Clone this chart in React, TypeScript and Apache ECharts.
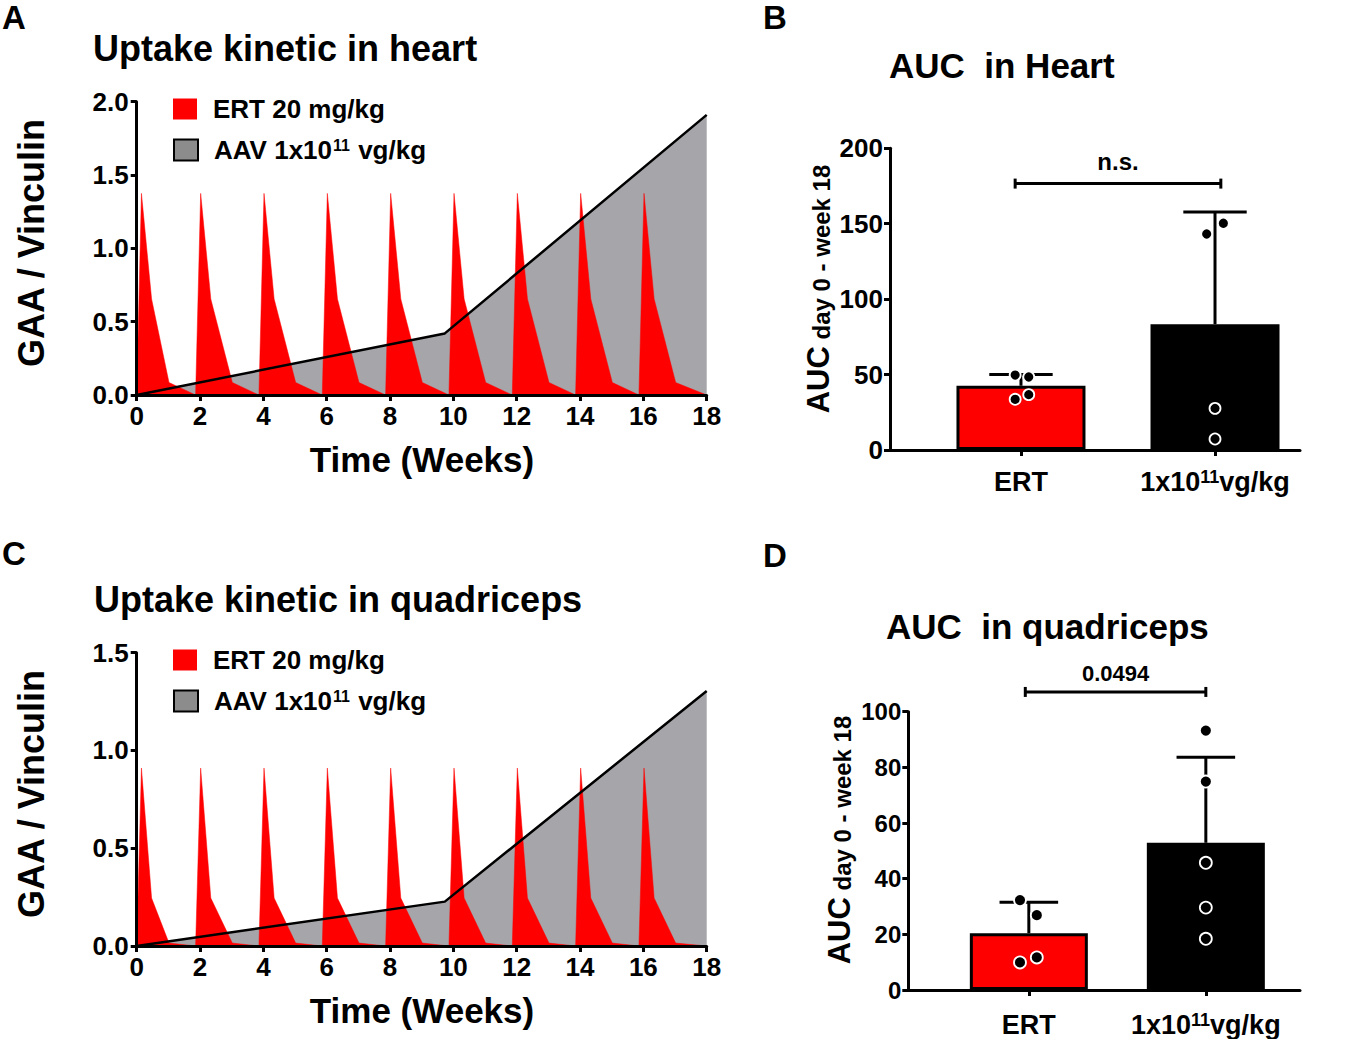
import React, { useEffect, useRef } from "react";
import * as echarts from "echarts";

const FONT = '"Liberation Sans", Arial, Helvetica, sans-serif';

// ---------- Panels A & C : uptake kinetics ----------
const ERT_NAME = "ERT 20 mg/kg";
const AAV_NAME = "AAV 1x10^11 vg/kg";

const ertWeeks = [
  0, 0.15, 0.47, 1.02, 1.86,
  2.02, 2.34, 3.02, 3.86,
  4.02, 4.34, 5.02, 5.86,
  6.02, 6.34, 7.02, 7.86,
  8.02, 8.34, 9.02, 9.86,
  10.02, 10.34, 11.02, 11.86,
  12.02, 12.34, 13.02, 13.86,
  14.02, 14.34, 15.02, 15.86,
  16.02, 16.34, 17.02, 18,
];
const heartErtValues = [
  0, 1.375, 0.655, 0.085, 0,
  1.375, 0.655, 0.085, 0,
  1.375, 0.655, 0.085, 0,
  1.375, 0.655, 0.085, 0,
  1.375, 0.655, 0.085, 0,
  1.375, 0.655, 0.085, 0,
  1.375, 0.655, 0.085, 0,
  1.375, 0.655, 0.085, 0,
  1.375, 0.655, 0.085, 0,
];
const quadErtValues = [
  0, 0.91, 0.245, 0.015, 0,
  0.91, 0.245, 0.015, 0,
  0.91, 0.245, 0.015, 0,
  0.91, 0.245, 0.015, 0,
  0.91, 0.245, 0.015, 0,
  0.91, 0.245, 0.015, 0,
  0.91, 0.245, 0.015, 0,
  0.91, 0.245, 0.015, 0,
  0.91, 0.245, 0.015, 0,
];
const aavWeeks = [0, 9.73, 18];
const heartAavValues = [0, 0.42, 1.91];
const quadAavValues = [0, 0.227, 1.304];

// ---------- Panels B & D : AUC ----------
const groupLabels = ["ERT", "1x10{sup|11}vg/kg"];
const barColors = ["#ff0000", "#000000"];

const heartMeans = [42.6, 83.4];
const heartSD = [7.5, 74.4];
const heartErtAuc = [49.7, 48.4, 33.6, 36.7];
const heartErtJitter = [-0.03, 0.04, -0.03, 0.04];
const heartAavAuc = [143.2, 150.3, 27.6, 7.3];
const heartAavJitter = [-0.043, 0.043, 0, 0];
const heartBracketEnds = [-0.03, 1.03];
const heartBracketY = 176.6;
const heartPLabel = "n.s.";

const quadMeans = [20.4, 52.9];
const quadSD = [11.1, 30.7];
const quadErtAuc = [32.3, 26.9, 9.9, 11.7];
const quadErtJitter = [-0.05, 0.045, -0.05, 0.045];
const quadAavAuc = [93.2, 74.9, 45.7, 29.6, 18.4];
const quadAavJitter = [0, 0, 0, 0, 0];
const quadBracketEnds = [-0.02, 1.0];
const quadBracketY = 107.1;
const quadPLabel = "0.0494";

const axisLineStyle = { color: "#000", width: 3 };

function kineticX(gridIndex: number) {
  return {
    type: "value",
    gridIndex,
    min: 0,
    max: 18,
    interval: 2,
    z: 10,
    axisLine: { show: true, onZero: false, lineStyle: axisLineStyle },
    axisTick: { show: true, length: 6, lineStyle: axisLineStyle },
    axisLabel: { fontSize: 26, fontWeight: "bold", fontFamily: FONT, color: "#000", margin: 8 },
    splitLine: { show: false },
  };
}
function kineticY(gridIndex: number, max: number) {
  return {
    type: "value",
    gridIndex,
    min: 0,
    max,
    interval: 0.5,
    z: 10,
    axisLine: { show: true, onZero: false, lineStyle: axisLineStyle },
    axisTick: { show: true, length: 6, lineStyle: axisLineStyle },
    axisLabel: {
      fontSize: 26,
      fontWeight: "bold",
      fontFamily: FONT,
      color: "#000",
      margin: 8,
      formatter: (v: number) => v.toFixed(1),
    },
    splitLine: { show: false },
  };
}
function aucX(gridIndex: number, min: number, max: number, margin: number) {
  return {
    type: "value",
    gridIndex,
    min,
    max,
    z: 10,
    axisLine: { show: true, onZero: false, lineStyle: axisLineStyle },
    axisTick: { show: true, customValues: [0, 1], length: 6, lineStyle: axisLineStyle },
    axisLabel: {
      customValues: [0, 1],
      formatter: (v: number) => groupLabels[Math.round(v)],
      fontSize: 27,
      fontWeight: "bold",
      fontFamily: FONT,
      color: "#000",
      margin,
      rich: {
        sup: {
          fontSize: 18,
          fontWeight: "bold",
          fontFamily: FONT,
          color: "#000",
          lineHeight: 6,
          verticalAlign: "top",
        },
      },
    },
    splitLine: { show: false },
  };
}
function aucY(gridIndex: number, max: number, interval: number, fontSize: number) {
  return {
    type: "value",
    gridIndex,
    min: 0,
    max,
    interval,
    z: 10,
    axisLine: { show: true, onZero: false, lineStyle: axisLineStyle },
    axisTick: { show: true, length: 6, lineStyle: axisLineStyle },
    axisLabel: { fontSize, fontWeight: "bold", fontFamily: FONT, color: "#000", margin: 7 },
    splitLine: { show: false },
  };
}

function kineticSeries(idx: number, ertValues: number[], aavValues: number[]) {
  const aavData = aavWeeks.map((w, i) => [w, aavValues[i]]);
  return [
    {
      type: "line",
      name: AAV_NAME,
      xAxisIndex: idx,
      yAxisIndex: idx,
      data: aavData,
      symbol: "none",
      silent: true,
      lineStyle: { width: 0 },
      areaStyle: { color: "#a5a5aa", opacity: 1 },
      z: 1,
    },
    {
      type: "line",
      name: ERT_NAME,
      xAxisIndex: idx,
      yAxisIndex: idx,
      data: ertWeeks.map((w, i) => [w, ertValues[i]]),
      symbol: "none",
      silent: true,
      lineStyle: { width: 0.5, color: "#ff0000" },
      itemStyle: { color: "#ff0000" },
      areaStyle: { color: "#ff0000", opacity: 1 },
      z: 2,
    },
    {
      type: "line",
      name: "AAV trend",
      xAxisIndex: idx,
      yAxisIndex: idx,
      data: aavData,
      symbol: "none",
      silent: true,
      lineStyle: { width: 2.5, color: "#000" },
      z: 3,
    },
  ];
}

function aucSeries(
  idx: number,
  means: number[],
  sd: number[],
  ertAuc: number[],
  ertJit: number[],
  aavAuc: number[],
  aavJit: number[],
  bracketEnds: number[],
  bracketY: number,
  pLabel: string,
  opts: { barWidth: number; capHalf: number; dot: number; pFont: number; pGap: number }
) {
  return [
    {
      type: "bar",
      xAxisIndex: idx,
      yAxisIndex: idx,
      barWidth: opts.barWidth,
      silent: true,
      data: means.map((m, i) => ({
        value: [i, m],
        itemStyle: { color: barColors[i], borderColor: "#000", borderWidth: 3 },
      })),
      z: 2,
    },
    {
      type: "custom",
      xAxisIndex: idx,
      yAxisIndex: idx,
      silent: true,
      data: means.map((m, i) => [i, m, sd[i]]),
      encode: { x: 0, y: 1 },
      renderItem: (_p: any, api: any) => {
        const x = api.value(0);
        const m = api.value(1);
        const s = api.value(2);
        const p0 = api.coord([x, m]);
        const p1 = api.coord([x, m + s]);
        const st = { stroke: "#000", lineWidth: 3 };
        return {
          type: "group",
          children: [
            { type: "line", shape: { x1: p0[0], y1: p0[1], x2: p1[0], y2: p1[1] }, style: st },
            {
              type: "line",
              shape: { x1: p1[0] - opts.capHalf, y1: p1[1], x2: p1[0] + opts.capHalf, y2: p1[1] },
              style: st,
            },
          ],
        };
      },
      z: 3,
    },
    {
      type: "scatter",
      xAxisIndex: idx,
      yAxisIndex: idx,
      silent: true,
      symbol: "circle",
      symbolSize: opts.dot,
      itemStyle: { color: "#000", borderColor: "#fff", borderWidth: 1.8, opacity: 1 },
      data: [
        ...ertAuc.map((v, i) => [0 + ertJit[i], v]),
        ...aavAuc.map((v, i) => [1 + aavJit[i], v]),
      ],
      z: 4,
    },
    {
      type: "custom",
      xAxisIndex: idx,
      yAxisIndex: idx,
      silent: true,
      data: [[bracketEnds[0], bracketEnds[1], bracketY]],
      encode: { x: [0, 1], y: 2 },
      renderItem: (_p: any, api: any) => {
        const a = api.coord([api.value(0), api.value(2)]);
        const b = api.coord([api.value(1), api.value(2)]);
        const st = { stroke: "#000", lineWidth: 3 };
        return {
          type: "group",
          children: [
            { type: "line", shape: { x1: a[0], y1: a[1], x2: b[0], y2: b[1] }, style: st },
            { type: "line", shape: { x1: a[0], y1: a[1] - 5, x2: a[0], y2: a[1] + 5 }, style: st },
            { type: "line", shape: { x1: b[0], y1: b[1] - 5, x2: b[0], y2: b[1] + 5 }, style: st },
            {
              type: "text",
              x: (a[0] + b[0]) / 2,
              y: a[1] - opts.pGap,
              style: {
                text: pLabel,
                fontSize: opts.pFont,
                fontWeight: "bold",
                fontFamily: FONT,
                fill: "#000",
                align: "center",
                verticalAlign: "bottom",
              },
            },
          ],
        };
      },
      z: 5,
    },
  ];
}

const legendText = {
  fontSize: 26,
  fontWeight: "bold",
  fontFamily: FONT,
  color: "#000",
  padding: [0, 0, 0, 11],
  rich: {
    sup: {
      fontSize: 16,
      fontWeight: "bold",
      fontFamily: FONT,
      color: "#000",
      lineHeight: 12,
      verticalAlign: "top",
      padding: [0, 1, 0, 1],
    },
  },
};
function legendItem(name: string, left: number, top: number) {
  const isAav = name === AAV_NAME;
  return {
    orient: "horizontal",
    left,
    top,
    padding: 0,
    itemWidth: 24,
    itemHeight: 21,
    selectedMode: false,
    textStyle: legendText,
    formatter: (n: string) => (n === AAV_NAME ? "AAV 1x10{sup|11} vg/kg" : n),
    data: [
      {
        name,
        icon: "rect",
        itemStyle: isAav
          ? { color: "#8c8c8c", borderColor: "#000", borderWidth: 2 }
          : { color: "#ff0000", borderWidth: 0 },
      },
    ],
  };
}

function text(t: string, x: number, y: number, size: number, extra: any = {}) {
  return {
    type: "text",
    x,
    y,
    silent: true,
    rotation: extra.rotation || 0,
    style: {
      text: t,
      fontSize: size,
      fontWeight: "bold",
      fontFamily: FONT,
      fill: "#000",
      align: extra.align || "left",
      verticalAlign: "middle",
      rich: extra.rich,
    },
  };
}

const aucRich = {
  big: { fontSize: 31, fontWeight: "bold", fontFamily: FONT, fill: "#000", color: "#000", verticalAlign: "bottom" },
  small: { fontSize: 24, fontWeight: "bold", fontFamily: FONT, fill: "#000", color: "#000", verticalAlign: "bottom" },
};

function buildOption() {
  return {
    animation: false,
    backgroundColor: "#ffffff",
    textStyle: { fontFamily: FONT },
    grid: [
      { left: 136.7, top: 101.7, width: 570, height: 293.3 },
      { left: 890, top: 148.3, width: 410, height: 301.7 },
      { left: 136.7, top: 652.7, width: 570, height: 293.3 },
      { left: 908.3, top: 711.7, width: 391.7, height: 278.3 },
    ],
    xAxis: [kineticX(0), aucX(1, -0.675, 1.438, 18), kineticX(2), aucX(3, -0.681, 1.532, 21)],
    yAxis: [kineticY(0, 2), aucY(1, 200, 50, 26), kineticY(2, 1.5), aucY(3, 100, 20, 24)],
    legend: [
      legendItem(ERT_NAME, 173, 96),
      legendItem(AAV_NAME, 173, 137),
      legendItem(ERT_NAME, 173, 647),
      legendItem(AAV_NAME, 173, 688),
    ],
    graphic: [
      text("A", 2, 17, 33),
      text("B", 763, 17.5, 33),
      text("C", 2, 553, 33),
      text("D", 763, 555, 33),
      text("Uptake kinetic in heart", 93, 48.5, 36),
      text("Uptake kinetic in quadriceps", 94, 599.5, 36),
      text("AUC  in Heart", 889, 65, 35),
      text("AUC  in quadriceps", 886, 626.5, 35),
      text("GAA / Vinculin", 31, 243, 36, { rotation: Math.PI / 2, align: "center" }),
      text("GAA / Vinculin", 31, 794, 36, { rotation: Math.PI / 2, align: "center" }),
      text("Time (Weeks)", 422, 459, 35, { align: "center" }),
      text("Time (Weeks)", 422, 1010, 35, { align: "center" }),
      text("{big|AUC} {small|day 0 - week 18}", 818, 289, 24, {
        rotation: Math.PI / 2,
        align: "center",
        rich: aucRich,
      }),
      text("{big|AUC} {small|day 0 - week 18}", 839, 840, 24, {
        rotation: Math.PI / 2,
        align: "center",
        rich: aucRich,
      }),
    ],
    series: [
      ...kineticSeries(0, heartErtValues, heartAavValues),
      ...kineticSeries(2, quadErtValues, quadAavValues),
      ...aucSeries(
        1,
        heartMeans,
        heartSD,
        heartErtAuc,
        heartErtJitter,
        heartAavAuc,
        heartAavJitter,
        heartBracketEnds,
        heartBracketY,
        heartPLabel,
        { barWidth: 129, capHalf: 31.7, dot: 11, pFont: 24, pGap: 10 }
      ),
      ...aucSeries(
        3,
        quadMeans,
        quadSD,
        quadErtAuc,
        quadErtJitter,
        quadAavAuc,
        quadAavJitter,
        quadBracketEnds,
        quadBracketY,
        quadPLabel,
        { barWidth: 118, capHalf: 29.3, dot: 12, pFont: 22, pGap: 7 }
      ),
    ],
  };
}

export default function App() {
  const ref = useRef<HTMLDivElement>(null);
  useEffect(() => {
    if (!ref.current) return;
    const chart = echarts.init(ref.current, null, { renderer: "svg" });
    chart.setOption(buildOption() as any);
    return () => chart.dispose();
  }, []);
  return (
    <div
      ref={ref}
      style={{ position: "absolute", left: 0, top: 0, width: 1347, height: 1039, background: "#fff" }}
    />
  );
}
